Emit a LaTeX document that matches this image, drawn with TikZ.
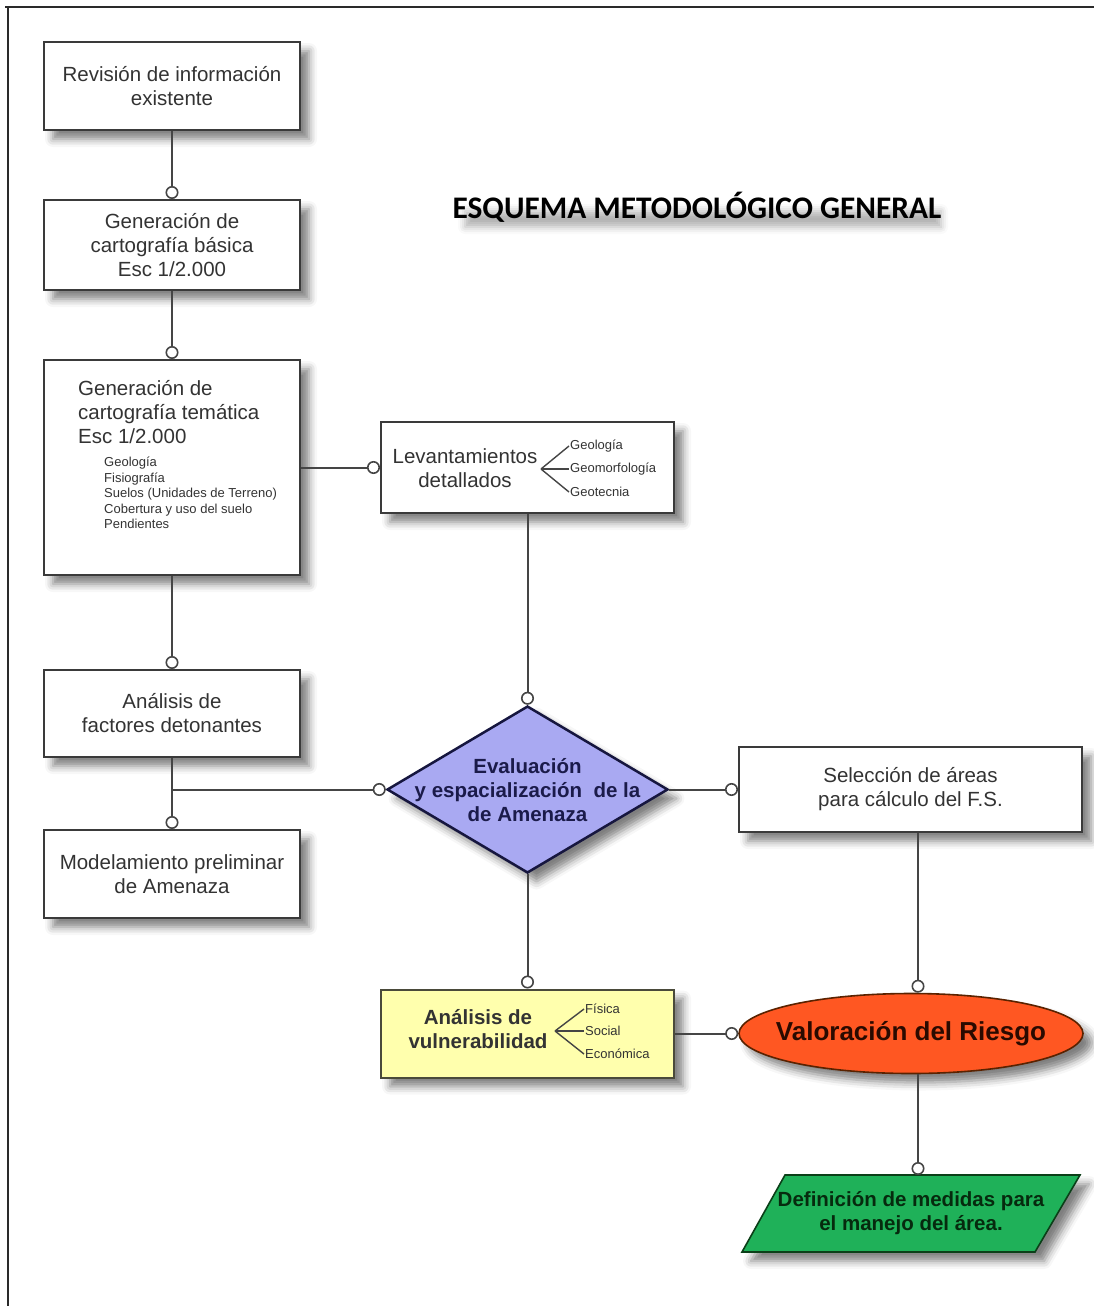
\documentclass[tikz,border=0pt]{standalone}
\usepackage{fontspec}
\setmainfont{Liberation Sans}
\newfontfamily\titlefont{Carlito}
\usetikzlibrary{shapes.geometric,shadows.blur,arrows.meta,calc}

\definecolor{framegray}{HTML}{2A2A2A}
\definecolor{linegray}{HTML}{454545}
\definecolor{boxedge}{HTML}{3A3A3A}
\definecolor{textgray}{HTML}{333333}
\definecolor{evalfill}{HTML}{A9A9F2}
\definecolor{evaledge}{HTML}{16163F}
\definecolor{evaltext}{HTML}{1B1B4A}
\definecolor{vulfill}{HTML}{FFFFAD}
\definecolor{vuledge}{HTML}{4A4A3A}
\definecolor{riskfill}{HTML}{FF5722}
\definecolor{riskedge}{HTML}{5A2200}
\definecolor{risktext}{HTML}{2A0A00}
\definecolor{actfill}{HTML}{1FB159}
\definecolor{actedge}{HTML}{0B3F18}
\definecolor{acttext}{HTML}{062A0E}

\tikzset{
  boxshadow/.style={blur shadow={shadow xshift=9pt, shadow yshift=-9pt,
      shadow blur radius=8pt, shadow opacity=50}},
  mainfont/.style={font=\fontsize{20.5}{24}\selectfont},
  boldfont/.style={font=\bfseries\fontsize{20.5}{24}\selectfont},
  smallfont/.style={font=\fontsize{13}{15.5}\selectfont},
  plainbox/.style={draw=boxedge, line width=2pt, fill=white,
      minimum width=256pt, minimum height=88pt, inner sep=0pt,
      boxshadow, text=textgray, align=center, mainfont},
  link/.style={draw=linegray, line width=2pt,
      -{Circle[fill=white, length=13pt, width=13pt, line width=1.6pt]}},
  forkline/.style={draw=linegray, line width=1.4pt},
  forklabel/.style={anchor=west, inner sep=1pt, smallfont, text=textgray},
}

\begin{document}
\begin{tikzpicture}[x=1pt, y=-1pt]
\useasboundingbox (0,0) rectangle (1094,1306);

% page frame (top and left edges)
\draw[framegray, line width=2.5pt] (5,7) -- (1094,7);
\draw[framegray, line width=2.5pt] (8,7) -- (8,1306);

% title with a soft shadow band beneath it
\path[blur shadow={shadow xshift=3pt, shadow yshift=-7pt,
      shadow blur radius=7pt, shadow opacity=30}]
  (462,204) rectangle (938,220);
\node[text=black, font=\titlefont\bfseries\fontsize{31.4}{36}\selectfont]
  (title) at (697,207) {ESQUEMA METODOLÓGICO GENERAL};

% left column
\node[plainbox] (rev) at (172,86) {Revisión de información\\existente};
\node[plainbox, minimum height=90pt] (base) at (172,245)
  {Generación de\\cartografía básica\\Esc 1/2.000};
\node[plainbox, minimum height=215pt] (tem) at (172,467.5) {};
\node[anchor=west, inner sep=0pt, align=left, mainfont, text=textgray]
  (tem-title) at (78,412) {Generación de\\cartografía temática\\Esc 1/2.000};
\node[anchor=west, inner sep=0pt, align=left, smallfont, text=textgray]
  (tem-list) at (104,493)
  {Geología\\Fisiografía\\Suelos (Unidades de Terreno)\\Cobertura y uso del suelo\\Pendientes};
\node[plainbox, minimum height=87pt] (fac) at (172,713.5)
  {Análisis de\\factores detonantes};
\node[plainbox] (mod) at (172,874) {Modelamiento preliminar\\de Amenaza};

% detailed surveys
\node[plainbox, minimum width=293pt, minimum height=91pt] (lev) at (527.5,467.5) {};
\node[inner sep=0pt, align=center, mainfont, text=textgray]
  (lev-text) at (465,468) {Levantamientos\\detallados};
\coordinate (lev-fork) at (541,469);
\node[forklabel] (lev-geo) at (569,446) {Geología};
\node[forklabel] (lev-gmf) at (569,469) {Geomorfología};
\node[forklabel] (lev-gtc) at (569,492) {Geotecnia};
\draw[forkline] (lev-fork) -- (lev-geo.west);
\draw[forkline] (lev-fork) -- (lev-gmf.west);
\draw[forkline] (lev-fork) -- (lev-gtc.west);

% hazard evaluation
\node[diamond, draw=evaledge, line width=2.5pt, fill=evalfill, inner sep=0pt,
      minimum width=281pt, minimum height=167pt, boxshadow] (ev) at (527.5,789.5) {};
\node[inner sep=0pt, align=center, boldfont, text=evaltext]
  (ev-text) at (527.5,790) {Evaluación\\y espacialización~ de la\\de Amenaza};

\node[plainbox, minimum width=343pt, minimum height=85pt] (sel) at (910.5,789.5)
  {Selección de áreas\\para cálculo del F.S.};

% vulnerability
\node[plainbox, draw=vuledge, fill=vulfill, minimum width=293pt, minimum height=88pt]
  (vul) at (527.5,1033.5) {};
\node[inner sep=0pt, align=center, boldfont, text=textgray]
  (vul-text) at (478,1029) {Análisis de\\vulnerabilidad};
\coordinate (vul-fork) at (555,1031);
\node[forklabel] (vul-fis) at (584,1009) {Física};
\node[forklabel] (vul-soc) at (584,1031) {Social};
\node[forklabel] (vul-eco) at (584,1054) {Económica};
\draw[forkline] (vul-fork) -- (vul-fis.west);
\draw[forkline] (vul-fork) -- (vul-soc.west);
\draw[forkline] (vul-fork) -- (vul-eco.west);

% risk assessment
\node[ellipse, draw=riskedge, line width=1.6pt, fill=riskfill, inner sep=0pt,
      minimum width=344pt, minimum height=80pt, boxshadow]
  (val) at (911,1033.5) {};
\node[inner sep=0pt, text=risktext, font=\bfseries\fontsize{26}{30}\selectfont]
  (val-text) at (911,1034) {Valoración del Riesgo};
\coordinate (val-top) at ($(val.north)+(7,0)$);
\coordinate (val-bot) at ($(val.south)+(7,0)$);

% management measures
\path[draw=actedge, line width=1.6pt, fill=actfill, boxshadow]
  (785,1175) -- (1080,1175) -- (1035,1252) -- (742,1252) -- cycle;
\node[inner sep=0pt, align=center, boldfont, text=acttext]
  (def) at (911,1213) {Definición de medidas para\\el manejo del área.};
\coordinate (def-top) at (918,1175);

% connectors
\draw[link] (rev) -- (base);
\draw[link] (base) -- (tem);
\draw[link] (tem.east |- lev.west) -- (lev.west);
\draw[link] (tem) -- (fac);
\draw[link] (lev) -- (ev);
\draw[link] (fac) -- (mod);
\coordinate (split) at (fac.south |- ev.west);
\draw[link] (split) -- (ev.west);
\draw[link] (ev) -- (sel);
\draw[link] (ev) -- (vul);
\draw[link] (vul) -- (val);
\draw[link] (sel.south -| val-top) -- (val-top);
\draw[link] (val-bot) -- (def-top);
\end{tikzpicture}
\end{document}
